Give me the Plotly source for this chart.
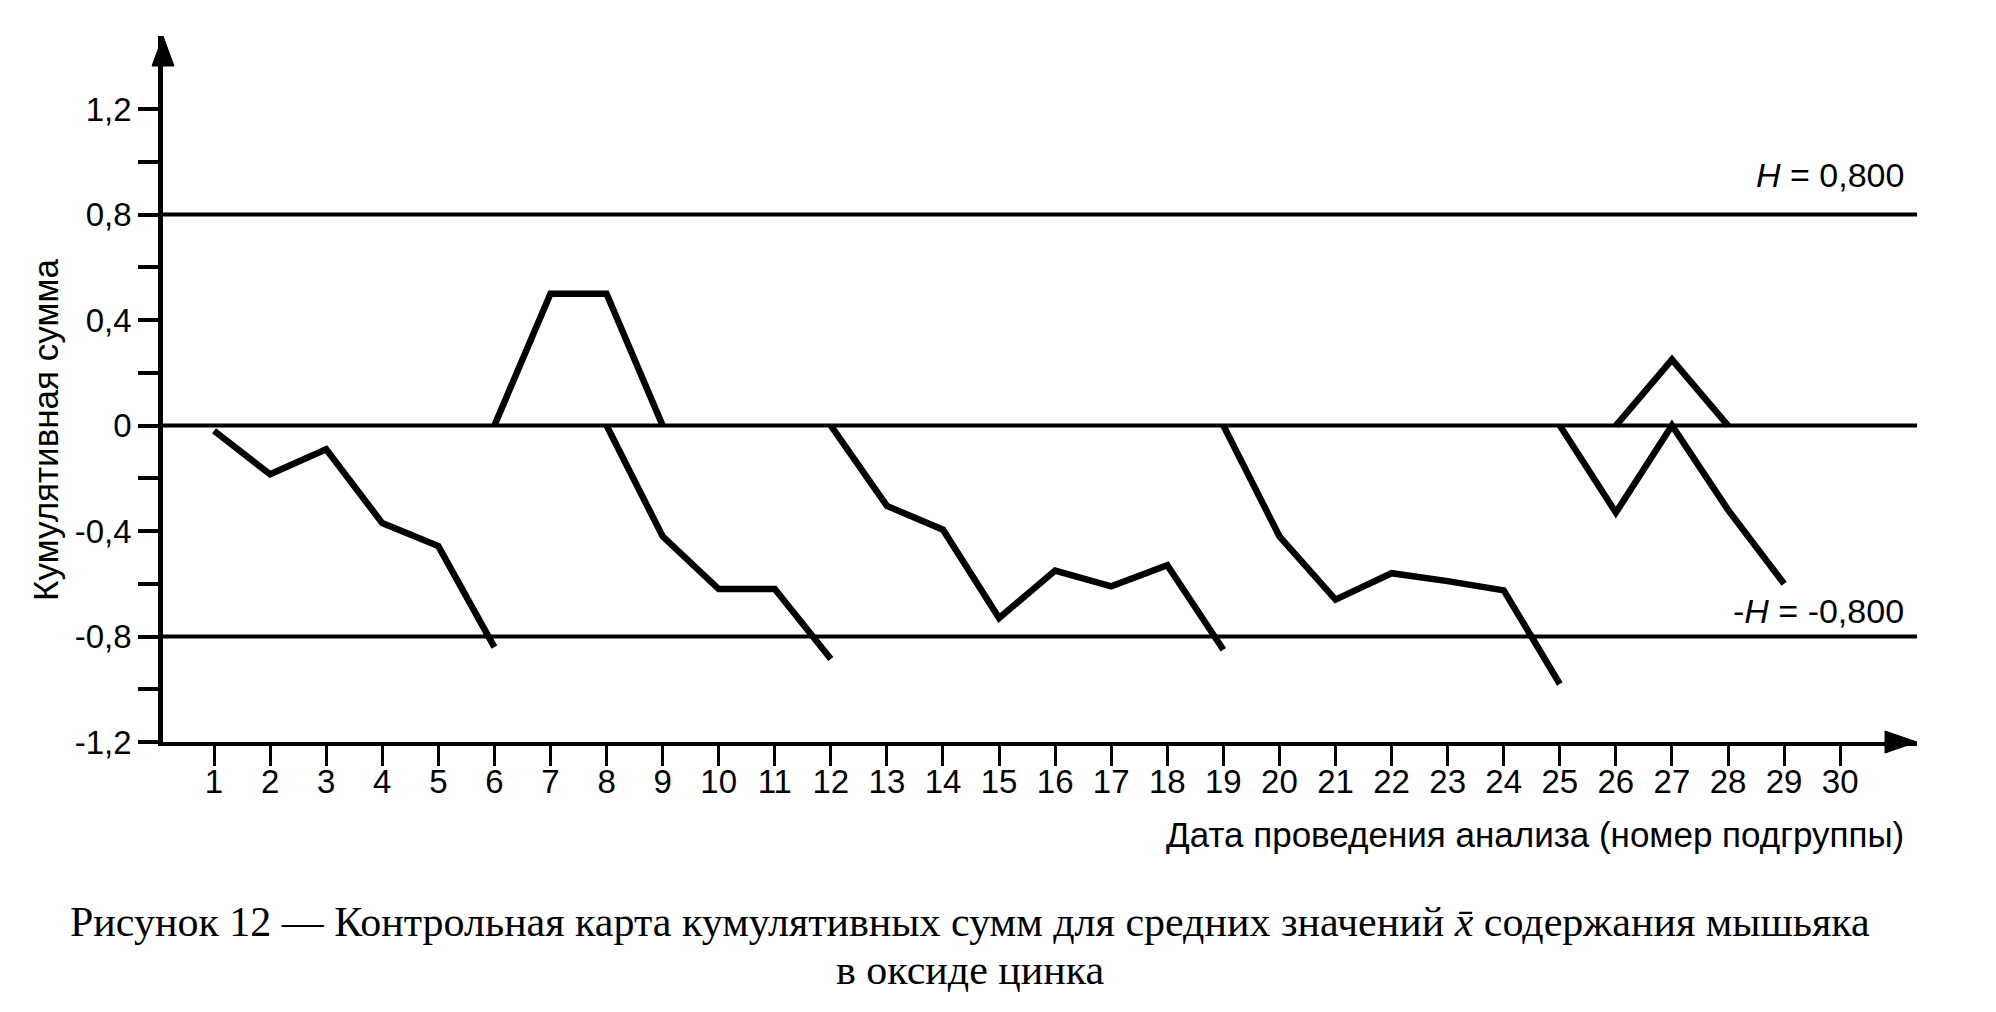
import plotly.graph_objects as go

# ---------------- data ----------------
days = list(range(1, 31))
day_labels = [str(d) for d in days]

# lower (negative) cumulative sums, broken into runs
lower_x = [1, 2, 3, 4, 5, 6, None,
           8, 9, 10, 11, 12, None,
           12, 13, 14, 15, 16, 17, 18, 19, None,
           19, 20, 21, 22, 23, 24, 25, None,
           25, 26, 27, 28, 29]
lower_y = [-0.02, -0.185, -0.09, -0.37, -0.457, -0.84, None,
           0.0, -0.42, -0.62, -0.62, -0.885, None,
           0.0, -0.305, -0.395, -0.73, -0.55, -0.61, -0.53, -0.85, None,
           0.0, -0.42, -0.66, -0.56, -0.59, -0.625, -0.98, None,
           0.0, -0.33, 0.0, -0.32, -0.60]

# upper (positive) cumulative sums
upper_x = [6, 7, 8, 9, None, 26, 27, 28]
upper_y = [0.0, 0.5, 0.5, 0.0, None, 0.0, 0.25, 0.0]

H = 0.8
ref_levels = [H, 0.0, -H]

y_tick_vals = [1.2, 1.0, 0.8, 0.6, 0.4, 0.2, 0.0, -0.2, -0.4, -0.6, -0.8, -1.0, -1.2]
y_tick_text = ["1,2", "", "0,8", "", "0,4", "", "0", "", "-0,4", "", "-0,8", "", "-1,2"]

y_title = "Кумулятивная сумма"
x_title = "Дата проведения анализа (номер подгруппы)"
caption1 = "Рисунок 12 — Контрольная карта кумулятивных сумм для средних значений <i>x̄</i> содержания мышьяка"
caption2 = "в оксиде цинка"
label_H = "<i>H</i> = 0,800"
label_mH = "-<i>H</i> = -0,800"

# ---------------- layout geometry ----------------
OFF = 8                      # page body margin
W, HGT = 1996 - 2 * OFF, 1012 - 2 * OFF
ML, MT = 163 - OFF, 36 - OFF
MR = W - (1917 - OFF)
MB = HGT - (742 - OFF)
X_RANGE = [0.09, 31.37]
Y_RANGE = [-1.2, 1.477]
PW = W - ML - MR
PH = HGT - MT - MB


def page_x(px):
    return (px - OFF - ML) / PW


def page_y(py):
    return (HGT - MB - (py - OFF)) / PH


SANS = "Liberation Sans, Arial, sans-serif"
SERIF = "Liberation Serif, Times New Roman, serif"

fig = go.Figure()

fig.add_trace(go.Scatter(x=lower_x, y=lower_y, mode="lines",
                         line=dict(color="black", width=6.5),
                         connectgaps=False, hoverinfo="skip", showlegend=False))
fig.add_trace(go.Scatter(x=upper_x, y=upper_y, mode="lines",
                         line=dict(color="black", width=6.5),
                         connectgaps=False, hoverinfo="skip", showlegend=False))

for lv in ref_levels:
    fig.add_shape(type="line", xref="x", yref="y", x0=X_RANGE[0], x1=X_RANGE[1],
                  y0=lv, y1=lv, line=dict(color="black", width=4), layer="below")

# axis arrow heads
aw, ah = 11, 30
fig.add_shape(type="path", xref="paper", yref="paper",
              path=f"M {-aw / PW} {1 - ah / PH} L 0 1 L {aw / PW} {1 - ah / PH} Z",
              fillcolor="black", line=dict(color="black", width=1))
bw, bh = 32, 11
fig.add_shape(type="path", xref="paper", yref="paper",
              path=f"M {1 - bw / PW} {bh / PH} L 1 0 L {1 - bw / PW} {-bh / PH} Z",
              fillcolor="black", line=dict(color="black", width=1))

# texts
fig.add_annotation(text=label_H, xref="paper", yref="paper",
                   x=page_x(1906), y=page_y(175),
                   xanchor="right", yanchor="middle", showarrow=False,
                   font=dict(family=SANS, size=34, color="black"))
fig.add_annotation(text=label_mH, xref="paper", yref="paper",
                   x=page_x(1906), y=page_y(611),
                   xanchor="right", yanchor="middle", showarrow=False,
                   font=dict(family=SANS, size=34, color="black"))
fig.add_annotation(text=y_title, xref="paper", yref="paper",
                   x=page_x(45), y=page_y(430),
                   xanchor="center", yanchor="middle", textangle=-90, showarrow=False,
                   font=dict(family=SANS, size=35, color="black"))
fig.add_annotation(text=x_title, xref="paper", yref="paper",
                   x=page_x(1906), y=page_y(834),
                   xanchor="right", yanchor="middle", showarrow=False,
                   font=dict(family=SANS, size=35, color="black"))
fig.add_annotation(text=caption1, xref="paper", yref="paper",
                   x=page_x(970), y=page_y(922),
                   xanchor="center", yanchor="middle", showarrow=False,
                   font=dict(family=SERIF, size=42, color="black"))
fig.add_annotation(text=caption2, xref="paper", yref="paper",
                   x=page_x(970), y=page_y(970),
                   xanchor="center", yanchor="middle", showarrow=False,
                   font=dict(family=SERIF, size=42, color="black"))

fig.update_layout(
    width=W, height=HGT,
    margin=dict(l=ML, r=MR, t=MT, b=MB, pad=0),
    paper_bgcolor="white", plot_bgcolor="white",
    showlegend=False,
    xaxis=dict(range=X_RANGE, tickmode="array", tickvals=days, ticktext=day_labels,
               ticks="outside", ticklen=20, tickwidth=3, tickcolor="black",
               ticklabelstandoff=-13,
               showline=True, linecolor="black", linewidth=4,
               showgrid=False, zeroline=False,
               tickfont=dict(family=SANS, size=33, color="black")),
    yaxis=dict(range=Y_RANGE, tickmode="array", tickvals=y_tick_vals, ticktext=y_tick_text,
               ticks="outside", ticklen=20, tickwidth=3.5, tickcolor="black",
               showline=True, linecolor="black", linewidth=4.5,
               showgrid=False, zeroline=False,
               tickfont=dict(family=SANS, size=33, color="black")),
)

fig.write_html("out.html", config={"displayModeBar": False})
